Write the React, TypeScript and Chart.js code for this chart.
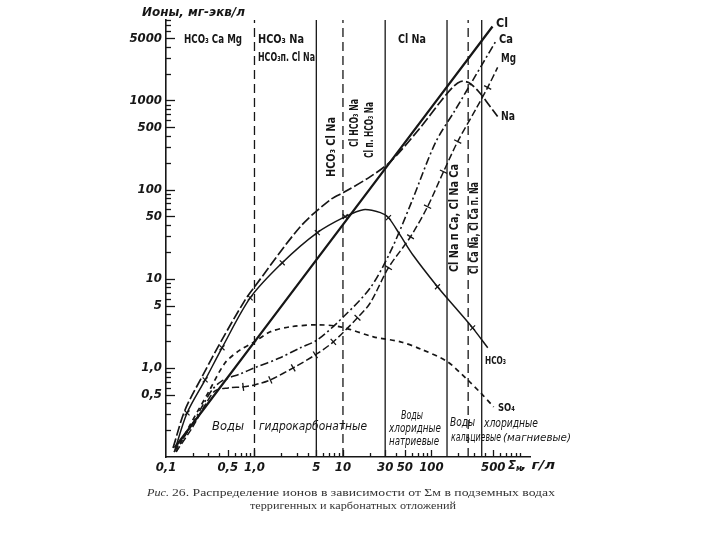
import React, { useEffect, useRef } from "react";
import { Chart, registerables } from "chart.js";

Chart.register(...registerables);

// ---------------- data ----------------
const xTickValues = [0.1, 0.5, 1, 5, 10, 30, 50, 100, 500];
const xTickLabels = ["0,1", "0,5", "1,0", "5", "10", "30", "50", "100", "500"];
const yTickValues = [0.5, 1, 5, 10, 50, 100, 500, 1000, 5000];
const yTickLabels = ["0,5", "1,0", "5", "10", "50", "100", "500", "1000", "5000"];

// zone boundaries, г/л
const zoneBounds = [1, 5, 10, 30, 150, 260, 370];
const zoneDashed = [true, false, true, false, false, true, false];

// Cl
const clX = [0.125, 1, 10, 100, 490];
const clY = [0.127, 1.96, 40.5, 836, 6760];

// Na
const naX = [0.12, 0.164, 0.262, 0.41, 0.785, 1.0, 3.3, 7.2, 10.6, 20.4, 34.4, 75, 127, 173, 214, 263, 341, 443, 560];
const naY = [0.126, 0.337, 0.834, 1.91, 5.8, 8.1, 38.4, 77, 95, 140, 206, 497, 975, 1400, 1635, 1590, 1260, 902, 661];

// HCO3
const hco3X = [0.126, 0.173, 0.277, 0.43, 0.894, 2.06, 5.13, 10.6, 17, 26.5, 32.7, 44.7, 62.7, 117, 187, 292, 433];
const hco3Y = [0.12, 0.312, 0.733, 1.68, 6.1, 15.1, 32.9, 49.7, 59.6, 55.2, 48.5, 30.4, 18.1, 8.13, 4.72, 2.81, 1.68];
const hco3Marked = [0, 1, 1, 1, 1, 1, 1, 1, 0, 0, 1, 0, 0, 1, 0, 1, 0];

// SO4
const so4X = [0.13, 0.187, 0.299, 0.466, 0.689, 1.0, 1.51, 2.54, 5.13, 9.35, 22.1, 44.7, 75.2, 152, 256, 360, 505];
const so4Y = [0.114, 0.229, 0.524, 1.14, 1.59, 1.96, 2.54, 2.89, 3.04, 2.89, 2.23, 1.96, 1.63, 1.17, 0.733, 0.524, 0.365];

// Ca
const caX = [0.123, 0.187, 0.262, 0.332, 0.43, 0.689, 1.0, 1.95, 3.3, 5.13, 10.4, 20.4, 34.4, 58, 111, 187, 316, 532];
const caY = [0.114, 0.212, 0.384, 0.566, 0.715, 0.857, 1.0, 1.3, 1.68, 2.06, 3.84, 7.92, 20.1, 67.8, 337, 792, 1910, 4600];

// Mg
const mgX = [0.13, 0.197, 0.277, 0.359, 0.504, 0.745, 1.0, 1.51, 2.74, 4.87, 7.78, 14.6, 20.4, 32.7, 58, 90.4, 137, 198, 316, 432, 560];
const mgY = [0.114, 0.212, 0.384, 0.552, 0.596, 0.612, 0.644, 0.733, 1.0, 1.4, 1.96, 3.65, 5.38, 13.3, 29.6, 64.4, 159, 346, 792, 1400, 2350];
const mgMarked = [0, 0, 0, 0, 0, 1, 0, 1, 1, 1, 1, 1, 0, 1, 1, 1, 1, 1, 0, 1, 0];

// axis ranges
const X_MIN = 0.1;
const X_MAX = 1300;
const Y_MIN = 0.1;
const Y_MAX = 8000;

// ---------------- styles ----------------
const INK = "#161616";
const TEXT = "#161616";
const SANS = '"Liberation Sans Narrow", "DejaVu Sans Condensed", "DejaVu Sans", sans-serif';
const SERIF = '"Liberation Serif", "DejaVu Serif", serif';

type Ann = { t: string; x: number; y: number; w?: number; s?: number; it?: boolean; b?: boolean; r?: number; a?: CanvasTextAlign; f?: string; c?: string };

const annotations: Ann[] = [
  { t: "Ионы, мг-экв/л", x: 142, y: 13, w: 103, s: 13, it: true, b: true },
  { t: "HCO₃ Ca Mg", x: 184, y: 40, w: 58, s: 13, b: true },
  { t: "HCO₃ Na", x: 258, y: 40, w: 46, s: 13, b: true },
  { t: "HCO₃п. Cl Na", x: 258, y: 58, w: 57, s: 13, b: true },
  { t: "Cl Na", x: 398, y: 40, w: 28, s: 13, b: true },
  { t: "HCO₃ Cl Na", x: 332, y: 147, w: 60, s: 12, r: -90, a: "center", b: true },
  { t: "Cl HCO₃ Na", x: 355, y: 123, w: 48, s: 12, r: -90, a: "center", b: true },
  { t: "Cl п. HCO₃ Na", x: 370, y: 130, w: 56, s: 12, r: -90, a: "center", b: true },
  { t: "Cl Na п Ca, Cl Na Ca", x: 455, y: 218, w: 108, s: 12, r: -90, a: "center", b: true },
  { t: "Cl Ca Na, Cl Ca п. Na", x: 475, y: 228, w: 92, s: 12, r: -90, a: "center", b: true },
  { t: "Cl", x: 496, y: 24, w: 12, s: 13, b: true },
  { t: "Ca", x: 499, y: 40, w: 14, s: 13, b: true },
  { t: "Mg", x: 501, y: 59, w: 15, s: 13, b: true },
  { t: "Na", x: 501, y: 117, w: 14, s: 13, b: true },
  { t: "HCO₃", x: 485, y: 361, w: 21, s: 11, b: true },
  { t: "SO₄", x: 498, y: 408, w: 17, s: 11, b: true },
  { t: "Воды", x: 212, y: 427, w: 32, s: 13, it: true },
  { t: "гидрокарбонатные", x: 259, y: 427, w: 108, s: 13, it: true },
  { t: "Воды", x: 401, y: 416, w: 22, s: 12, it: true },
  { t: "хлоридные", x: 389, y: 429, w: 52, s: 12, it: true },
  { t: "натриевые", x: 389, y: 442, w: 50, s: 12, it: true },
  { t: "Воды", x: 450, y: 423, w: 25, s: 12, it: true },
  { t: "хлоридные", x: 484, y: 424, w: 54, s: 12, it: true },
  { t: "кальциевые", x: 451, y: 438, w: 50, s: 12, it: true },
  { t: "(магниевые)", x: 503, y: 438, w: 68, s: 10, it: true },
  { t: "Σ", x: 508, y: 466, w: 8, s: 13, it: true, b: true },
  { t: "м", x: 516, y: 469, w: 6, s: 9, it: true, b: true },
  { t: ", г/л", x: 521, y: 466, w: 34, s: 13, it: true, b: true },
  { t: "Рис.", x: 147, y: 493, w: 22, s: 11, it: true, f: SERIF, c: "#333333" },
  { t: "26. Распределение ионов в зависимости от Σм в подземных водах", x: 172, y: 493, w: 383, s: 11, f: SERIF, c: "#333333" },
  { t: "терригенных и карбонатных отложений", x: 250, y: 506, w: 206, s: 11, f: SERIF, c: "#333333" },
];

const pts = (xs: number[], ys: number[]) => xs.map((x, i) => ({ x, y: ys[i] }));

const perpendicular = (ctx: any) => {
  const chart = ctx.chart;
  const data = ctx.dataset.data as { x: number; y: number }[];
  const i = ctx.dataIndex;
  const a = data[Math.max(i - 1, 0)];
  const b = data[Math.min(i + 1, data.length - 1)];
  const xs = chart.scales.x;
  const ys = chart.scales.y;
  if (!xs || !ys || !a || !b) return 90;
  const dx = xs.getPixelForValue(b.x) - xs.getPixelForValue(a.x);
  const dy = ys.getPixelForValue(b.y) - ys.getPixelForValue(a.y);
  return (Math.atan2(dy, dx) * 180) / Math.PI + 90;
};

const isMajor = (list: number[], v: number) => list.some((t) => Math.abs(t - v) < 1e-6 * Math.max(1, v));

const decorPlugin = {
  id: "decor",
  afterDraw(chart: any) {
    const { ctx, chartArea } = chart;
    const xs = chart.scales.x;
    const ys = chart.scales.y;
    ctx.save();
    ctx.strokeStyle = INK;
    ctx.lineWidth = 1.3;
    ctx.setLineDash([]);
    for (let e = -1; e <= 3; e++) {
      for (let k = 1; k <= 9; k++) {
        const v = k * Math.pow(10, e);
        if (v > Y_MIN * 1.001 && v <= Y_MAX) {
          const py = Math.round(ys.getPixelForValue(v)) + 0.5;
          const len = isMajor(yTickValues, v) ? 9 : 5;
          ctx.beginPath();
          ctx.moveTo(chartArea.left, py);
          ctx.lineTo(chartArea.left + len, py);
          ctx.stroke();
        }
        if (v > X_MIN * 1.001 && v <= 1000.001) {
          const px = Math.round(xs.getPixelForValue(v)) + 0.5;
          const len = isMajor(xTickValues, v) ? 7 : 4;
          ctx.beginPath();
          ctx.moveTo(px, chartArea.bottom);
          ctx.lineTo(px, chartArea.bottom - len);
          ctx.stroke();
        }
      }
    }
    for (const an of annotations) {
      const size = an.s ?? 12;
      ctx.save();
      ctx.font = `${an.it ? "italic " : ""}${an.b ? "bold " : ""}${size}px ${an.f ?? SANS}`;
      const w = ctx.measureText(an.t).width;
      const sx = an.w ? an.w / w : 1;
      ctx.translate(an.x, an.y);
      if (an.r) ctx.rotate((an.r * Math.PI) / 180);
      ctx.scale(sx, 1);
      ctx.textBaseline = "middle";
      ctx.textAlign = an.a ?? "left";
      ctx.fillStyle = an.c ?? TEXT;
      ctx.fillText(an.t, 0, 0);
      ctx.restore();
    }
    ctx.restore();
  },
};

export default function App() {
  const ref = useRef<HTMLCanvasElement | null>(null);

  useEffect(() => {
    const canvas = ref.current;
    if (!canvas) return;

    const zoneSets = zoneBounds.map((v, i) => ({
      data: [
        { x: v, y: Y_MIN },
        { x: v, y: Y_MAX },
      ],
      borderColor: INK,
      borderWidth: 1.3,
      borderDash: zoneDashed[i] ? [9, 5] : [],
      pointRadius: 0,
      tension: 0,
    }));

    const curve = (xs: number[], ys: number[], extra: any) => ({
      data: pts(xs, ys),
      borderColor: INK,
      pointRadius: 0,
      tension: 0.3,
      ...extra,
    });

    const chart = new Chart(canvas, {
      type: "line",
      data: {
        datasets: [
          ...zoneSets,
          curve(so4X, so4Y, { borderWidth: 1.7, borderDash: [5, 4] }),
          curve(caX, caY, { borderWidth: 1.6, borderDash: [8, 3, 2, 3] }),
          curve(mgX, mgY, {
            borderWidth: 1.5,
            borderDash: [7, 3],
            pointStyle: "line",
            pointRadius: mgMarked.map((m) => (m ? 4 : 0)),
            pointBorderColor: INK,
            pointBorderWidth: 1.3,
            pointRotation: perpendicular,
          }),
          curve(hco3X, hco3Y, {
            borderWidth: 1.5,
            pointStyle: "crossRot",
            pointRadius: hco3Marked.map((m) => (m ? 3.5 : 0)),
            pointBorderColor: INK,
            pointBorderWidth: 1.2,
          }),
          curve(naX, naY, { borderWidth: 1.7, borderDash: [10, 3] }),
          curve(clX, clY, { borderWidth: 2.3, tension: 0 }),
        ] as any,
      },
      options: {
        animation: false,
        responsive: false,
        maintainAspectRatio: false,
        events: [],
        layout: { padding: { left: 0, top: 20, right: 190, bottom: 53 } },
        plugins: { legend: { display: false }, tooltip: { enabled: false } },
        scales: {
          x: {
            type: "logarithmic",
            min: X_MIN,
            max: X_MAX,
            afterFit: (s: any) => {
              s.height = 30;
            },
            afterBuildTicks: (s: any) => {
              s.ticks = xTickValues.map((v) => ({ value: v }));
            },
            ticks: {
              autoSkip: false,
              maxRotation: 0,
              padding: 3,
              color: TEXT,
              font: { family: SANS, size: 13, style: "italic", weight: "bold" },
              callback: (_v: any, i: number) => xTickLabels[i],
            },
            grid: { display: false, drawTicks: false },
            border: { display: true, color: INK, width: 1.6 },
          },
          y: {
            type: "logarithmic",
            min: Y_MIN,
            max: Y_MAX,
            afterFit: (s: any) => {
              s.width = 166;
            },
            afterBuildTicks: (s: any) => {
              s.ticks = yTickValues.map((v) => ({ value: v }));
            },
            ticks: {
              autoSkip: false,
              padding: 4,
              color: TEXT,
              font: { family: SANS, size: 13, style: "italic", weight: "bold" },
              callback: (_v: any, i: number) => yTickLabels[i],
            },
            grid: { display: false, drawTicks: false },
            border: { display: true, color: INK, width: 1.6 },
          },
        },
      } as any,
      plugins: [decorPlugin as any],
    });

    return () => chart.destroy();
  }, []);

  return (
    <div style={{ position: "fixed", left: 0, top: 0, width: 720, height: 540, background: "#ffffff" }}>
      <canvas ref={ref} width={720} height={540} style={{ width: 720, height: 540, display: "block" }} />
    </div>
  );
}
